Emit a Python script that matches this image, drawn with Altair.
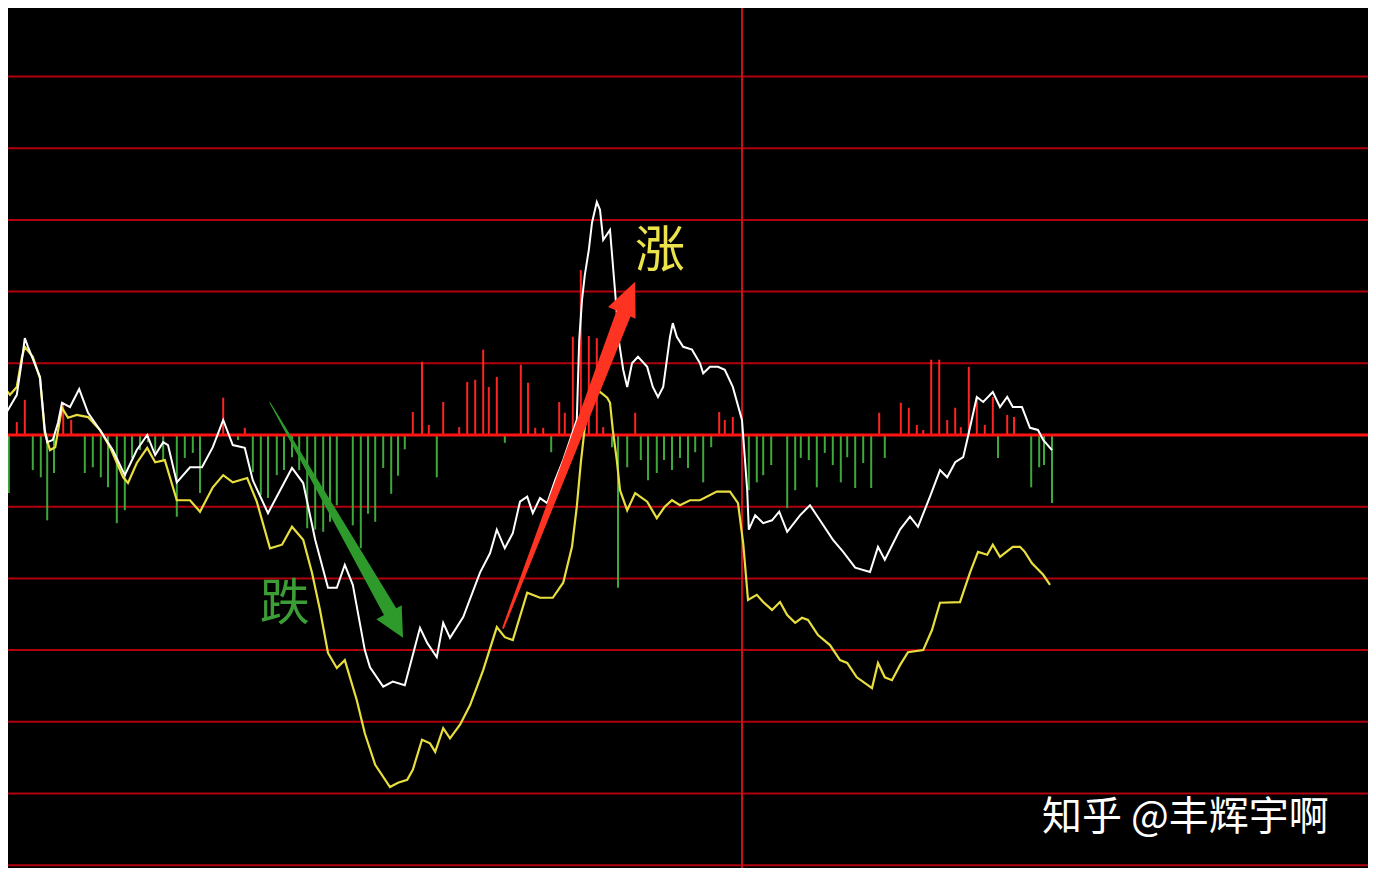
import altair as alt
import pandas as pd

# ---- data (x: minutes from left edge, y: % change) ----
white_t = [0, 1.0, 2.1, 2.75, 3.1, 3.5, 5.0, 5.6, 5.9, 6.6,
           7.25, 7.75, 8.75, 9.9, 11.0, 12.5, 14.1, 15.6, 17.1, 18.4,
           19.4, 20.4, 21.0, 22.1, 23.75, 25.25, 26.6, 27.9, 29.1, 30.6,
           31.6, 33.5, 36.5, 37.9, 39.4, 41.0, 42.1, 43.1, 44.1, 45.6,
           46.25, 47.9, 49.1, 50.6, 52.5, 53.4, 54.6, 55.4, 56.25, 57.9,
           60.0, 61.25, 62.1, 63.1, 64.1, 65.0, 65.9, 66.6, 67.5, 68.4,
           69.4, 70.4, 71.25, 72.1, 72.4, 72.75, 73.1, 73.6, 74.0, 74.6,
           75.0, 75.4, 76.25, 76.9, 77.4, 77.9, 78.4, 79.0, 79.75, 80.9,
           81.6, 82.25, 82.9, 83.75, 84.1, 84.6, 85.4, 86.5, 87.5, 87.9,
           88.75, 89.75, 90.6, 91.6, 92.75, 93.4, 93.6, 94.4, 95.4, 96.5,
           97.4, 98.4, 100.0, 101.25, 102.5, 104.1, 105.4, 106.9, 108.75, 109.75,
           110.6, 112.5, 113.75, 114.75, 116.25, 117.5, 118.4, 119.4, 120.4, 120.9,
           122.1, 122.9, 124.1, 125.0, 125.9, 126.6, 127.75, 128.75, 129.75, 130.4,
           131.5]
white_v = [0.46, 0.35, 0.56, 1.05, 1.35, 1.23, 0.81, 0.07, -0.10, -0.07,
           0.17, 0.45, 0.39, 0.64, 0.31, 0.07, -0.21, -0.56, -0.21, 0.0,
           -0.28, -0.10, -0.14, -0.66, -0.45, -0.45, -0.17, 0.21, -0.14, -0.18,
           -0.63, -1.09, -0.46, -0.67, -1.46, -2.13, -2.13, -1.81, -2.09, -3.00,
           -3.24, -3.51, -3.44, -3.49, -2.69, -2.90, -3.10, -2.62, -2.83, -2.54,
           -1.92, -1.65, -1.32, -1.58, -1.37, -0.93, -0.86, -1.09, -0.88, -0.95,
           -0.63, -0.35, -0.07, 0.21, 1.32, 1.88, 2.23, 2.58, 2.96, 3.25,
           3.14, 2.72, 2.86, 1.98, 1.28, 0.91, 0.67, 1.00, 1.09, 0.95,
           0.67, 0.53, 0.67, 1.37, 1.56, 1.37, 1.23, 1.19, 1.00, 0.86,
           0.95, 0.95, 0.91, 0.67, 0.21, -0.77, -1.32, -1.12, -1.23, -1.19,
           -1.07, -1.35, -1.12, -0.98, -1.19, -1.46, -1.63, -1.85, -1.91, -1.56,
           -1.74, -1.32, -1.14, -1.28, -0.86, -0.49, -0.59, -0.38, -0.31, -0.07,
           0.53, 0.46, 0.60, 0.39, 0.53, 0.39, 0.39, 0.10, 0.07, -0.07,
           -0.21]

yellow_t = [0, 1.25, 2.1, 2.75, 3.1, 4.1, 5.0, 5.6, 6.25, 6.9,
            7.75, 8.5, 9.6, 11.0, 12.5, 13.75, 15.4, 16.0, 17.1, 18.4,
            19.4, 20.6, 22.1, 23.75, 25.0, 26.6, 27.9, 29.1, 30.9, 32.1,
            33.75, 35.25, 36.5, 37.9, 39.0, 40.0, 41.0, 42.1, 43.1, 44.6,
            45.6, 46.9, 48.75, 49.75, 50.9, 51.6, 52.75, 53.75, 54.4, 55.4,
            56.25, 57.5, 58.75, 60.4, 62.1, 63.1, 64.1, 65.9, 67.5, 69.1,
            70.4, 71.5, 72.1, 72.6, 73.1, 74.0, 75.0, 75.9, 76.25, 76.6,
            77.1, 77.5, 78.4, 79.4, 80.9, 82.1, 83.1, 84.0, 85.0, 86.25,
            87.5, 89.6, 91.25, 92.25, 92.9, 93.5, 94.6, 95.4, 96.5, 97.5,
            98.4, 99.4, 100.25, 101.0, 102.25, 103.75, 105.0, 105.9, 107.1, 109.0,
            109.75, 110.6, 111.5, 112.5, 113.5, 115.4, 116.5, 117.5, 120.0, 121.25,
            122.25, 123.4, 124.1, 125.0, 126.6, 127.5, 128.1, 129.0, 130.4, 131.25]
yellow_v = [0.74, 0.56, 0.67, 1.09, 1.23, 1.09, 0.79, 0.03, -0.21, -0.17,
            0.38, 0.24, 0.28, 0.25, 0.07, -0.17, -0.59, -0.67, -0.39, -0.18,
            -0.38, -0.35, -0.91, -0.91, -1.07, -0.73, -0.56, -0.66, -0.60, -0.93,
            -1.58, -1.53, -1.28, -1.46, -1.92, -2.44, -3.04, -3.25, -3.14, -3.70,
            -4.16, -4.60, -4.91, -4.85, -4.81, -4.67, -4.25, -4.30, -4.42, -4.09,
            -4.23, -4.04, -3.77, -3.28, -2.68, -2.82, -2.86, -2.20, -2.27, -2.27,
            -2.06, -1.56, -1.00, -0.39, 0.11, 0.59, 0.60, 0.52, 0.45, 0.07,
            -0.35, -0.77, -1.05, -0.81, -0.93, -1.16, -1.00, -0.91, -0.98, -0.91,
            -0.91, -0.79, -0.79, -0.95, -1.51, -2.30, -2.23, -2.33, -2.44, -2.33,
            -2.51, -2.62, -2.55, -2.58, -2.79, -2.93, -3.14, -3.18, -3.38, -3.53,
            -3.18, -3.38, -3.42, -3.21, -3.03, -3.00, -2.72, -2.34, -2.33, -1.92,
            -1.63, -1.67, -1.53, -1.70, -1.56, -1.56, -1.63, -1.79, -1.95, -2.09]

bar_t = [0.4, 1.1, 2.1, 3.1, 4.1, 5.1, 5.9, 6.75, 7.9, 8.9,
         10.6, 11.6, 12.6, 13.5, 14.6, 15.6, 16.5, 17.5, 18.5, 19.4,
         20.4, 22.1, 23.1, 24.1, 25.0, 27.9, 29.75, 30.6, 31.6, 32.6,
         33.5, 34.6, 35.5, 36.5, 37.4, 38.4, 39.4, 40.4, 41.25, 42.1,
         44.1, 45.1, 46.0, 46.9, 47.9, 48.9, 49.75, 50.6, 51.6, 52.75,
         53.6, 54.6, 55.4, 57.4, 58.4, 59.4, 60.4, 61.1, 62.1, 63.1,
         65.1, 66.0, 66.9, 67.9, 68.9, 69.9, 70.6, 71.6, 72.6, 73.6,
         74.6, 75.4, 76.5, 77.25, 78.4, 79.4, 80.1, 81.0, 82.1, 83.0,
         84.0, 85.0, 86.0, 86.9, 87.9, 88.9, 89.9, 90.6, 91.6, 93.6,
         94.6, 95.4, 96.4, 98.4, 99.4, 100.1, 101.1, 102.1, 103.1, 104.1,
         105.1, 105.9, 106.9, 107.9, 108.9, 109.9, 110.6, 112.6, 113.6, 114.6,
         115.4, 116.4, 117.4, 118.4, 119.4, 120.1, 121.1, 122.1, 123.1, 124.1,
         124.75, 125.9, 126.75, 128.9, 129.9, 130.5, 131.5]
bar_v = [-0.28, -0.81, 0.18, 0.49, -0.49, -0.59, -1.19, -0.53, 0.45, 0.21,
         -0.53, -0.45, -0.59, -0.73, -1.23, -1.05, -0.32, -0.21, -0.10, -0.24,
         -0.35, -1.14, -0.32, -0.25, -0.81, 0.52, -0.07, 0.10, -0.52, -0.84,
         -0.88, -0.56, -0.49, -0.31, -0.49, -1.30, -1.32, -1.35, -1.21, -0.98,
         -1.26, -1.58, -1.10, -1.21, -0.46, -0.82, -0.57, -0.20, 0.32, 1.02,
         0.14, -0.59, 0.46, 0.11, 0.74, 0.77, 1.19, 0.67, 0.81, -0.11,
         0.98, 0.73, 0.10, 0.10, -0.24, 0.46, 0.31, 1.37, 2.30, 1.38,
         1.35, 0.11, -0.17, -2.13, -0.45, 0.31, -0.35, -0.63, -0.53, -0.35,
         -0.49, -0.32, -0.46, -0.24, -0.66, -0.17, 0.32, 0.21, 0.25, -0.77,
         -0.66, -0.56, -0.42, -1.02, -0.77, -0.32, -0.35, -0.73, -0.25, -0.42,
         -0.66, -0.31, -0.74, -0.39, -0.74, 0.31, -0.32, 0.45, 0.38, 0.14,
         0.07, 1.05, 1.05, 0.21, 0.38, 0.11, 0.95, 0.52, 0.14, 0.53,
         -0.32, 0.28, 0.25, -0.73, -0.45, -0.42, -0.95]

grid_levels = [-6, -5, -4, -3, -2, -1, 1, 2, 3, 4, 5]
zero_level = [0]
midday_t = [92.75]

# arrows: start/end of shaft (t, v, width) and head (t, v)
red_shaft_t = [62.9, 77.9]
red_shaft_v = [-2.69, 1.68]
red_shaft_w = [2, 15]
red_head_t = [78.56]
red_head_v = [1.92]

green_shaft_t = [33.75, 48.7]
green_shaft_v = [0.45, -2.45]
green_shaft_w = [1, 14]
green_head_t = [49.5]
green_head_v = [-2.65]

labels = ["涨", "跌"]
label_t = [82.5, 35.6]
label_v = [2.55, -2.37]
label_color = ["#ece24a", "#3c9c36"]

watermark = ["知乎 @丰辉宇啊"]
watermark_t = [130.25]
watermark_v = [-5.34]

# ---- chart ----
FONT = "Noto Sans CJK SC"
xs = alt.Scale(domain=[1, 171], nice=False, zero=False)
ys = alt.Scale(domain=[-6.039, 5.955], nice=False, zero=False)


def X(f="t"):
    return alt.X(f"{f}:Q", scale=xs, axis=None)


def Y(f="v"):
    return alt.Y(f"{f}:Q", scale=ys, axis=None)


grid = alt.Chart(pd.DataFrame({"v": grid_levels})).mark_rule(
    color="#b0000e", strokeWidth=2, clip=True
).encode(y=Y())

vline = alt.Chart(pd.DataFrame({"t": midday_t})).mark_rule(
    color="#c8101c", strokeWidth=2, clip=True
).encode(x=X())

bars_df = pd.DataFrame({"t": bar_t, "v": bar_v, "z": [0] * len(bar_t)})
bars = alt.Chart(bars_df).mark_rule(strokeWidth=2, clip=True).encode(
    x=X(), y=Y(), y2="z:Q",
    color=alt.condition(alt.datum.v > 0, alt.value("#ff2424"), alt.value("#3fa83a")),
)

zero = alt.Chart(pd.DataFrame({"v": zero_level})).mark_rule(
    color="#ff1414", strokeWidth=3, clip=True
).encode(y=Y())

yellow = alt.Chart(pd.DataFrame({"t": yellow_t, "v": yellow_v})).mark_line(
    color="#e8df3e", strokeWidth=2.2, clip=True
).encode(x=X(), y=Y())

white = alt.Chart(pd.DataFrame({"t": white_t, "v": white_v})).mark_line(
    color="#ffffff", strokeWidth=2, clip=True
).encode(x=X(), y=Y())

red_shaft = alt.Chart(pd.DataFrame({"t": red_shaft_t, "v": red_shaft_v, "w": red_shaft_w})).mark_trail(
    color="#ff3322", clip=True
).encode(x=X(), y=Y(), size=alt.Size("w:Q", scale=None, legend=None))

red_head = alt.Chart(pd.DataFrame({"t": red_head_t, "v": red_head_v})).mark_point(
    shape="M0,-1L0.88,1L-0.88,1Z", filled=True, size=1156, angle=23,
    color="#ff3322", opacity=1, strokeWidth=0, clip=True
).encode(x=X(), y=Y())

green_shaft = alt.Chart(pd.DataFrame({"t": green_shaft_t, "v": green_shaft_v, "w": green_shaft_w})).mark_trail(
    color="#2f9a2c", clip=True
).encode(x=X(), y=Y(), size=alt.Size("w:Q", scale=None, legend=None))

green_head = alt.Chart(pd.DataFrame({"t": green_head_t, "v": green_head_v})).mark_point(
    shape="M0,-1L1,1L-1,1Z", filled=True, size=841, angle=151,
    color="#2f9a2c", opacity=1, strokeWidth=0, clip=True
).encode(x=X(), y=Y())

label_layer = alt.Chart(pd.DataFrame({"t": label_t, "v": label_v, "s": labels, "c": label_color})).mark_text(
    font=FONT, fontSize=50, fontWeight="normal", align="center", baseline="middle", clip=True
).encode(x=X(), y=Y(), text="s:N", color=alt.Color("c:N", scale=None))

wm = alt.Chart(pd.DataFrame({"t": watermark_t, "v": watermark_v, "s": watermark})).mark_text(
    font=FONT, fontSize=40, color="#ffffff", align="left", baseline="middle", clip=True
).encode(x=X(), y=Y(), text="s:N")

chart = alt.layer(
    grid, vline, bars, zero, yellow, white,
    green_shaft, green_head, red_shaft, red_head, label_layer, wm
).properties(
    width=1360, height=860,
    autosize=alt.AutoSizeParams(type="fit", contains="padding"),
    padding=0,
    background="#000000",
).configure_view(stroke=None, fill="#000000")

chart.save("out.html", embed_options={"renderer": "svg", "actions": False})
